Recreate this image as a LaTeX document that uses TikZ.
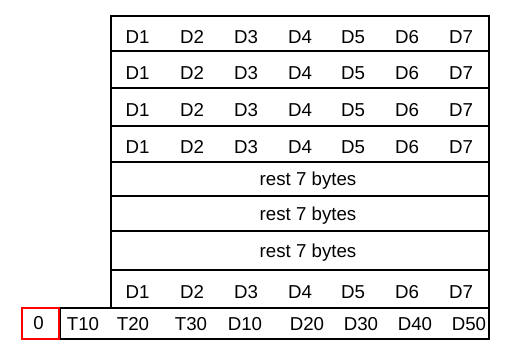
\documentclass[tikz,border=0pt]{standalone}
\usepackage{fontspec}
\setmainfont{Liberation Sans}
\begin{document}
\begin{tikzpicture}[x=1pt, y=-1pt, line width=1.3pt,
    cell/.style={font=\fontsize{18.7}{22}\selectfont, inner sep=0pt, anchor=base}]
  \useasboundingbox (0,0) rectangle (515,363);
  % the frame with its rows
  \draw (111,16) rectangle (489,308);
  \foreach \y in {51,88,126,162,196,231,270}
    \draw (111,\y) -- (489,\y);
  \draw (60,308) rectangle (489,339);
  \draw[red] (22,308) rectangle (59,339);
  % data rows (baselines)
  \foreach \r/\y in {1/43.3,2/79.3,3/116.5,4/153.5,8/298.3}
    \foreach \c/\x in {1/137.5,2/192,3/246,4/300,5/353,6/407,7/461}
      \node[cell] (d\r\c) at (\x,\y) {D\c};
  \foreach \r/\y in {5/186,6/220.5,7/257.5}
    \node[cell] (rest\r) at (308,\y) {rest 7 bytes};
  % bottom row
  \node[cell] (zero) at (38.5,329.5) {0};
  \foreach \t/\x in {T10/83,T20/133,T30/191,D10/245,D20/307,D30/361,D40/415,D50/469}
    \node[cell] (b\t) at (\x,331) {\t};
\end{tikzpicture}
\end{document}
